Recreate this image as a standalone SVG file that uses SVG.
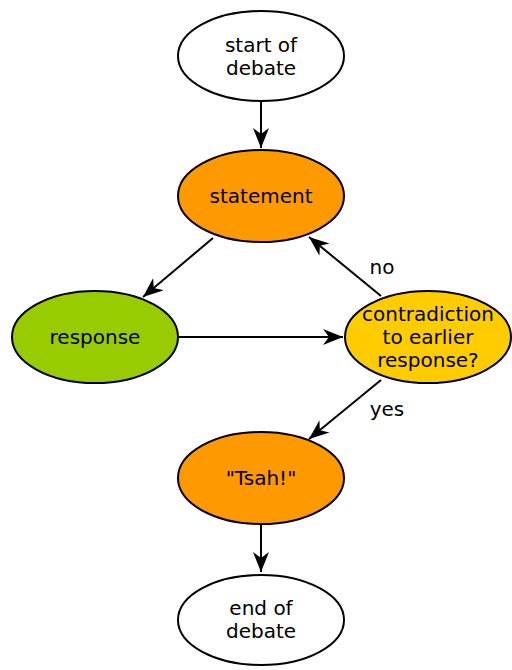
<svg xmlns="http://www.w3.org/2000/svg" width="512" height="670" viewBox="0 0 512 670">
<defs>
<marker id="arr" viewBox="0 0 20 16" refX="20" refY="8" markerWidth="20" markerHeight="16" markerUnits="userSpaceOnUse" orient="auto">
<path d="M0,0 L20,8 L0,16 L6,8 Z" fill="#000"/>
</marker>
<style>
.n{stroke:#000;stroke-width:2}
.t{font-family:"DejaVu Sans",sans-serif;font-size:20px;fill:#000;text-anchor:middle}
.c{stroke:#000;stroke-width:2;fill:none;marker-end:url(#arr)}
</style>
</defs>
<rect width="512" height="670" fill="#fff"/>
<g id="connectors">
<line class="c" x1="261" y1="101" x2="261" y2="148"/>
<line class="c" x1="213" y1="238" x2="143" y2="297"/>
<line class="c" x1="178" y1="337" x2="343" y2="337"/>
<line class="c" x1="381" y1="296" x2="309" y2="237"/>
<line class="c" x1="381" y1="380" x2="309" y2="439"/>
<line class="c" x1="261" y1="524" x2="261" y2="572"/>
<text class="t" x="382" y="274">no</text>
<text class="t" x="387" y="416">yes</text>
</g>
<g id="start">
<ellipse class="n" cx="261" cy="56" rx="83" ry="45" fill="#fff"/>
<text class="t" x="261" y="52">start of</text>
<text class="t" x="261" y="75">debate</text>
</g>
<g id="statement">
<ellipse class="n" cx="261" cy="196" rx="83" ry="46" fill="#FF9900"/>
<text class="t" x="261" y="203">statement</text>
</g>
<g id="response">
<ellipse class="n" cx="95" cy="337" rx="83" ry="46" fill="#99CC00"/>
<text class="t" x="95" y="344">response</text>
</g>
<g id="contradiction">
<ellipse class="n" cx="428" cy="337" rx="83" ry="46" fill="#FFCC00"/>
<text class="t" x="428" y="321">contradiction</text>
<text class="t" x="428" y="344">to earlier</text>
<text class="t" x="428" y="367">response?</text>
</g>
<g id="tsah">
<ellipse class="n" cx="261" cy="478" rx="83" ry="46" fill="#FF9900"/>
<text class="t" x="261" y="485">"Tsah!"</text>
</g>
<g id="end">
<ellipse class="n" cx="261" cy="620" rx="83" ry="45" fill="#fff"/>
<text class="t" x="261" y="615">end of</text>
<text class="t" x="261" y="638">debate</text>
</g>
</svg>
